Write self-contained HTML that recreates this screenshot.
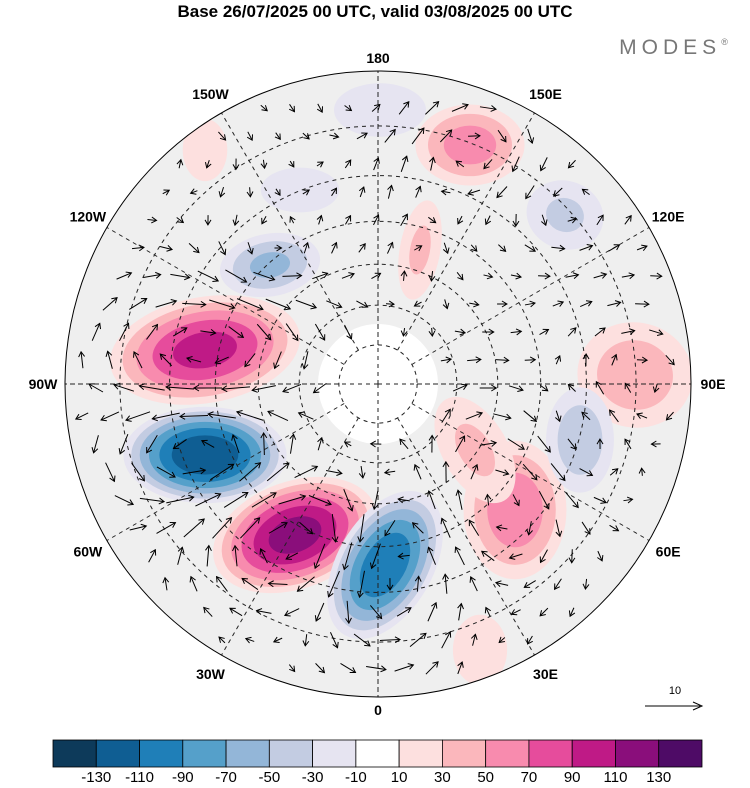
<!DOCTYPE html>
<html><head><meta charset="utf-8"><style>
body{margin:0;background:#fff;width:750px;height:783px;overflow:hidden;font-family:"Liberation Sans",sans-serif}
</style></head><body>
<svg id="s" width="750" height="783" xmlns="http://www.w3.org/2000/svg">
<text x="375" y="17" text-anchor="middle" font-size="17" font-weight="bold">Base 26/07/2025 00 UTC, valid 03/08/2025 00 UTC</text>
<text x="676" y="54" text-anchor="middle" font-size="21" fill="#777" letter-spacing="5">MODES<tspan font-size="9" dy="-9">®</tspan></text>
<defs><clipPath id="disk"><circle cx="378" cy="384" r="313"/></clipPath></defs>
<g id="maplayer" clip-path="url(#disk)"></g>
<circle cx="378" cy="384" r="313" fill="none" stroke="#000" stroke-width="1"/>
<g id="labels"></g>
<g id="cbar"></g>
<g><text x="675" y="694" text-anchor="middle" font-size="11">10</text><line x1="645" y1="706" x2="700" y2="706" stroke="#000"/><path d="M693,702 L702,706 L693,710" fill="none" stroke="#000"/></g>
</svg>
<script>
const NS="http://www.w3.org/2000/svg";
const levels=[-130,-110,-90,-70,-50,-30,-10,10,30,50,70,90,110,130];
const colors=["#0d3a5a","#0f5e93","#1f7fb8","#55a0ca","#93b6d8","#c3cce2","#e6e4f1","#ffffff","#fde0df","#fbb7bc","#f88bae","#e64c9c","#bf1a86","#8a0e7b","#4e0b66"];
// anomaly blobs: x, y, rx, ry, rotation, peak value
const blobX=[205,205,295,385,515,475,635,580,470,270,565,420,205,380,480,300];
const blobY=[350,455,535,565,510,450,375,440,145,265,215,250,150,110,650,190];
const blobRX=[105,88,92,52,58,40,68,40,62,58,48,25,30,62,40,70];
const blobRY=[58,52,58,88,78,72,62,62,46,36,42,62,42,36,52,40];
const blobRot=[-10,0,-20,30,0,-30,10,0,0,-10,20,10,0,0,0,0];
const blobPeak=[95,-125,115,-105,65,35,45,-45,60,-55,-35,35,25,-25,20,-15];
const lonLabels=["0","30E","60E","90E","120E","150E","180","150W","120W","90W","60W","30W"];
const cx=378,cy=384,R=313,K=447;
function el(t,a,p){const e=document.createElementNS(NS,t);for(const k in a)e.setAttribute(k,a[k]);(p||document.getElementById('s')).appendChild(e);return e;}
function colorFor(v){let i=0;while(i<levels.length&&v>levels[i])i++;return colors[i];}
const map=document.getElementById('maplayer');
el('circle',{cx,cy,r:R,fill:'#efefef'},map);
el('circle',{cx,cy,r:60,fill:'#fff'},map);
for(let b=0;b<blobX.length;b++){
 const g=el('g',{transform:`translate(${blobX[b]},${blobY[b]}) rotate(${blobRot[b]})`},map);
 
 
 const p=blobPeak[b],s=Math.sign(p);
 const lv=levels.filter(l=>s>0?l>=10&&l<Math.abs(p):l<=-10&&l>p);
 const ordered=s>0?lv:lv.slice().reverse();
 ordered.forEach(l=>{
  const f=Math.pow(1-Math.abs(l)/Math.abs(p)*0.9,0.6)*0.97;
  el('ellipse',{cx:0,cy:0,rx:blobRX[b]*f,ry:blobRY[b]*f,fill:colorFor(l+s)},g);
 });
}
const lat=[80,70,60,50,40,30];
lat.forEach(la=>{const r=K*Math.tan((90-la)/2*Math.PI/180);
 const c=el('circle',{cx,cy,r,fill:'none',stroke:'#222','stroke-dasharray':'4,4','stroke-width':1},map);
 });
for(let i=0;i<12;i++){const a=i*30*Math.PI/180;
 const l=el('line',{x1:cx+39*Math.sin(a),y1:cy+39*Math.cos(a),x2:cx+R*Math.sin(a),y2:cy+R*Math.cos(a),stroke:'#222','stroke-dasharray':'4,4'},map);
 
 if(i%3==0){el('line',{x1:cx,y1:cy,x2:cx+R*Math.sin(a),y2:cy+R*Math.cos(a),stroke:'#222','stroke-dasharray':'4,4'},map);}
}
function wind(x,y){let vx=0.15,vy=0;
 for(let b=0;b<blobX.length;b++){const dx=x-blobX[b],dy=y-blobY[b];
  const d2=(dx*dx)/(blobRX[b]*blobRX[b])+(dy*dy)/(blobRY[b]*blobRY[b]);
  const w=blobPeak[b]/50*Math.exp(-d2*0.7);
  vx+=-dy/blobRY[b]*w; vy+=dx/blobRX[b]*w;}
 return [vx,vy];}
const ag=el('g',{},map);
for(let y=80;y<700;y+=28){for(let x=70;x<700;x+=28){
 const xx=x+((y/28)%2)*14,dx=xx-cx,dy=y-cy;if(dx*dx+dy*dy>300*300||dx*dx+dy*dy<55*55)continue;
 const [vx,vy]=wind(xx,y);const m=Math.hypot(vx,vy);const L=Math.min(28,6+m*14);
 const ang=Math.atan2(vy,vx)*180/Math.PI;
 const a=el('g',{transform:`translate(${xx},${y}) rotate(${ang})`},ag);
 
 el('line',{x1:-L/2,y1:0,x2:L/2,y2:0,stroke:'#000','stroke-width':1},a);
 el('path',{d:`M${L/2-5},-3 L${L/2},0 L${L/2-5},3`,fill:'none',stroke:'#000','stroke-width':1},a);
}}
const lab=document.getElementById('labels');
lonLabels.forEach((t,i)=>{const a=i*30*Math.PI/180;let r=R+(i%3==0?14:22);
 let x=cx+r*Math.sin(a),y=cy+r*Math.cos(a)+5;
 if(i==3)x=cx+R+22; if(i==9)x=cx-R-22;
 if(i==0)y=cy+R+18; if(i==6)y=cy-R-8;
 const e=el('text',{x,y,'text-anchor':'middle','font-size':14,'font-weight':'bold'},lab);e.textContent=t;
 });
const cb=document.getElementById('cbar');const x0=53,w=649/15;
colors.forEach((c,i)=>{const r=el('rect',{x:x0+i*w,y:740,width:w,height:27,fill:c,stroke:'#000','stroke-width':0.8},cb);
 });
levels.forEach((l,i)=>{const t=el('text',{x:x0+(i+1)*w,y:782,'text-anchor':'middle','font-size':15},cb);t.textContent=l;
 });
</script>
</body></html>
